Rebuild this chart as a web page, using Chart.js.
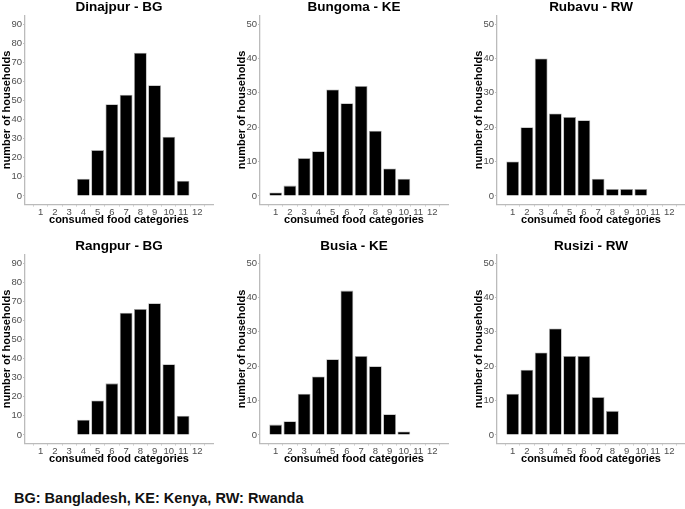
<!DOCTYPE html>
<html>
<head>
<meta charset="utf-8">
<script src="https://cdn.jsdelivr.net/npm/chart.js@4.4.1/dist/chart.umd.min.js"></script>
<style>
  html, body { margin: 0; padding: 0; background: #fff; overflow: hidden; }
  body { width: 685px; height: 509px; position: relative; font-family: "Liberation Sans", Arial, sans-serif; }
  canvas { position: absolute; }
  #note { position: absolute; left: 14px; top: 490px; font-size: 14.5px; font-weight: bold; color: #111; white-space: nowrap; }
</style>
</head>
<body>
<canvas id="c1" width="228" height="232" style="left:0px;top:0px"></canvas>
<canvas id="c2" width="228" height="232" style="left:235px;top:0px"></canvas>
<canvas id="c3" width="228" height="232" style="left:472px;top:0px"></canvas>
<canvas id="c4" width="228" height="232" style="left:0px;top:239px"></canvas>
<canvas id="c5" width="228" height="232" style="left:235px;top:239px"></canvas>
<canvas id="c6" width="228" height="232" style="left:472px;top:239px"></canvas>
<div id="note">BG: Bangladesh, KE: Kenya, RW: Rwanda</div>
<script>
// food categories 1..12
var categories = [1, 2, 3, 4, 5, 6, 7, 8, 9, 10, 11, 12];

// households per number of consumed food categories (null = no bar)
var dinajpur = [null, null, null, 9, 24, 48, 53, 75, 58, 31, 8, null];
var bungoma  = [1, 3, 11, 13, 31, 27, 32, 19, 8, 5, null, null];
var rubavu   = [10, 20, 40, 24, 23, 22, 5, 2, 2, 2, null, null];
var rangpur  = [null, null, null, 8, 18, 27, 64, 66, 69, 37, 10, null];
var busia    = [3, 4, 12, 17, 22, 42, 23, 20, 6, 1, null, null];
var rusizi   = [12, 19, 24, 31, 23, 23, 11, 7, null, null, null, null];

var ticksBG = [0, 10, 20, 30, 40, 50, 60, 70, 80, 90];
var ticksAF = [0, 10, 20, 30, 40, 50];

var FONT = '"Liberation Sans", Arial, sans-serif';

function panel(id, title, values, yTicks){
  var ctx = document.getElementById(id);
  var top = yTicks[yTicks.length - 1];
  var pad = top * 0.05;
  var pts = [];
  for (var i = 0; i < categories.length; i++) {
    if (values[i] !== null) pts.push({x: categories[i], y: values[i]});
  }
  return new Chart(ctx, {
    type: 'bar',
    data: {
      datasets: [{
        data: pts,
        backgroundColor: '#000000',
        borderColor: '#a8a8a8',
        borderWidth: 0.8,
        barPercentage: 0.9,
        categoryPercentage: 1.0
      }]
    },
    options: {
      responsive: false,
      animation: false,
      layout: { padding: { left: 0, right: 15, top: 0, bottom: 5.5 } },
      plugins: {
        legend: { display: false },
        tooltip: { enabled: false },
        title: {
          display: true,
          text: title,
          fullSize: false,
          color: '#000',
          font: { family: FONT, size: 13.5, weight: 'bold', lineHeight: 1.15 },
          padding: { top: 0, bottom: 0 }
        }
      },
      scales: {
        x: {
          type: 'linear',
          offset: false,
          min: 0.5 - 0.6,
          max: 12.5 + 0.6,
          afterBuildTicks: function(axis){
            axis.ticks = categories.map(function(v){ return {value: v}; });
          },
          afterFit: function(axis){ axis.height = 22; },
          grid: { display: true, drawOnChartArea: false, drawTicks: true, tickLength: 2, color: '#c0c0c0' },
          border: { display: true, color: '#bbbbbb', width: 1.3 },
          ticks: {
            color: '#4d4d4d', padding: 0, maxRotation: 0, autoSkip: false,
            font: { family: FONT, size: 9.5 }
          },
          title: {
            display: true, text: 'consumed food categories', color: '#000',
            font: { family: FONT, size: 11, weight: 'bold', lineHeight: 1.2 },
            padding: 0
          }
        },
        y: {
          min: -pad,
          max: top + pad,
          afterBuildTicks: function(axis){
            axis.ticks = yTicks.map(function(v){ return {value: v}; });
          },
          afterFit: function(axis){ axis.width = 25; },
          grid: { display: true, drawOnChartArea: false, drawTicks: true, tickLength: 2, color: '#c0c0c0' },
          border: { display: true, color: '#bbbbbb', width: 1.3 },
          ticks: {
            color: '#4d4d4d', padding: 1,
            font: { family: FONT, size: 9.5 }
          },
          title: {
            display: true, text: 'number of households', color: '#000',
            font: { family: FONT, size: 11, weight: 'bold', lineHeight: 1.2 },
            padding: 0
          }
        }
      }
    }
  });
}

window.onload = function(){
  panel('c1', 'Dinajpur - BG', dinajpur, ticksBG);
  panel('c2', 'Bungoma - KE', bungoma, ticksAF);
  panel('c3', 'Rubavu - RW', rubavu, ticksAF);
  panel('c4', 'Rangpur - BG', rangpur, ticksBG);
  panel('c5', 'Busia - KE', busia, ticksAF);
  panel('c6', 'Rusizi - RW', rusizi, ticksAF);
};
</script>
</body>
</html>
